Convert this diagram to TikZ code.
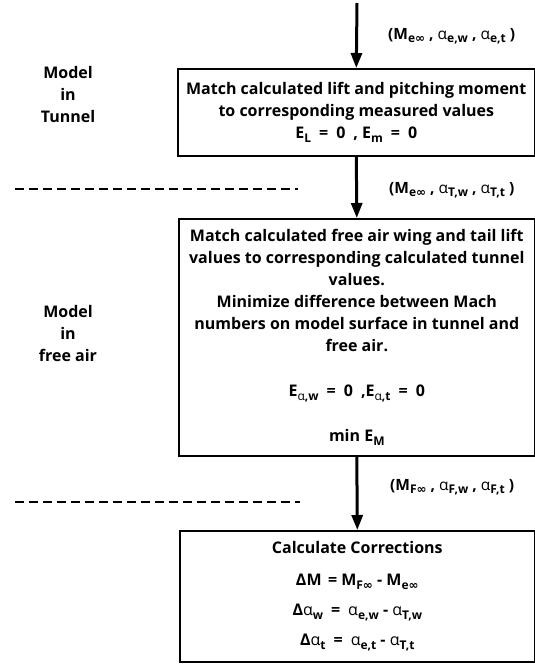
\documentclass[tikz,border=0pt]{standalone}
\usepackage{fontspec}
\setmainfont{Open Sans}
\newfontfamily\dvs{DejaVu Sans}
\usetikzlibrary{arrows.meta}
\newcommand\infy{{\dvs\bfseries ∞}}
\newcommand\lo[1]{\raisebox{-0.4ex}{\fontsize{12}{12}\selectfont #1}}
\newcommand\al{{\mdseries α}}
\newcommand\eqs{\hspace{0.5em}=\hspace{0.5em}}
\tikzset{
  x=1pt, y=-1pt,
  boxstyle/.style={draw, line width=1.6pt, anchor=north west, align=center,
    inner sep=0pt, font=\fontsize{16}{22}\selectfont\bfseries},
  flowarrow/.style={line width=3pt, -{Triangle[length=15pt,width=11pt]}},
  sepline/.style={line width=1.8pt, dash pattern=on 9pt off 5pt},
  sidelabel/.style={align=center, font=\fontsize{16}{22}\selectfont\bfseries},
  varlabel/.style={anchor=west, inner sep=0pt, font=\fontsize{15.5}{16}\selectfont\bfseries}
}
\begin{document}
\begin{tikzpicture}
\useasboundingbox (0,0) rectangle (535,664);
% boxes
\node[boxstyle, minimum width=357pt, minimum height=87pt] (box1) at (177,68)
  {Match calculated lift and pitching moment\\
   to corresponding measured values\\
   E\lo{L}\eqs 0\enspace , E\lo{m}\eqs 0};
\node[boxstyle, minimum width=356pt, minimum height=237pt] (box2) at (178,218)
  {Match calculated free air wing and tail lift\\
   values to corresponding calculated tunnel\\
   values.\\
   Minimize difference between Mach\\
   numbers on model surface in tunnel and\\
   free air.\\[23pt]
   E\lo{\al,w}\eqs 0\enspace ,E\lo{\al,t}\eqs 0\\[23pt]
   min E\lo{M}};
\node[boxstyle, minimum width=355pt, minimum height=131pt] (box3) at (179,530)
  {Calculate Corrections\\[10pt]
   ΔM\hspace{0.4em}= M\lo{F\infy} - M\lo{e\infy}\\[8pt]
   Δ\al\lo{w}\eqs\al\lo{e,w} - \al\lo{T,w}\\[8pt]
   Δ\al\lo{t}\eqs\al\lo{e,t} - \al\lo{T,t}};
% side labels
\node[sidelabel] (tun) at (68,94) {Model\\in\\Tunnel};
\node[sidelabel] (free) at (68,333) {Model\\in\\free air};
% arrows
\coordinate (start) at (357,3);
\draw[flowarrow] (start) -- (box1.north);
\draw[flowarrow] (box1.south) -- (box2.north);
\draw[flowarrow] (box2.south) -- (box3.north);
% variable labels
\node[varlabel] (v1) at (388,36) {(M\lo{e\infy} , \al\lo{e,w} , \al\lo{e,t} )};
\node[varlabel] (v2) at (389,190) {(M\lo{e\infy} , \al\lo{T,w} , \al\lo{T,t} )};
\node[varlabel] (v3) at (390,487) {(M\lo{F\infy} , \al\lo{F,w} , \al\lo{F,t} )};
% dashed separators
\coordinate (d1a) at (15,189);
\coordinate (d1b) at (298,189);
\coordinate (d2a) at (15,502);
\coordinate (d2b) at (300,502);
\draw[sepline] (d1a) -- (d1b);
\draw[sepline] (d2a) -- (d2b);
\end{tikzpicture}
\end{document}
